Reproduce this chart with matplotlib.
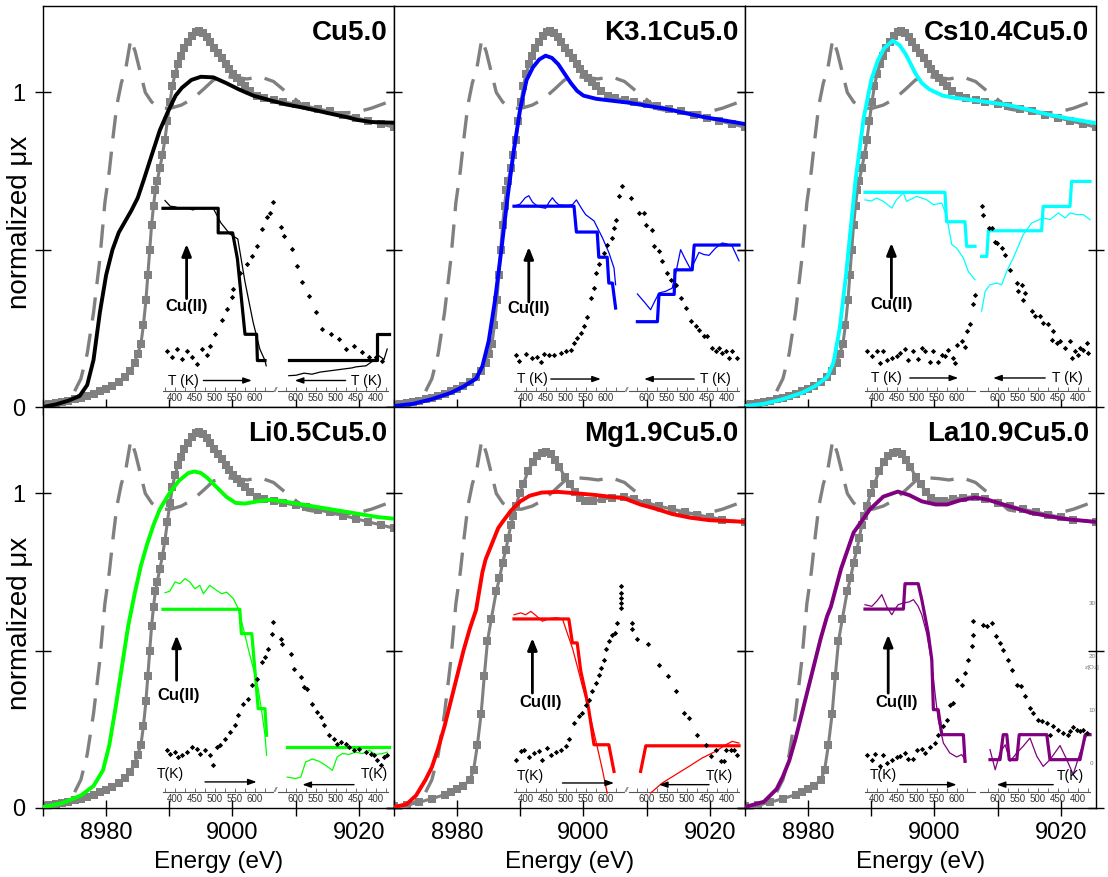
import matplotlib
matplotlib.use('Agg')
import matplotlib.pyplot as plt
from matplotlib.ticker import MultipleLocator, FixedLocator, FuncFormatter

plt.rcParams['font.family'] = ['Liberation Sans', 'DejaVu Sans']

# ---------------- main XANES spectra (energy eV, normalized mu x) ----------------
ref_dash = [(8970, 0.0), (8972, 0.005), (8973.4, 0.02), (8975, 0.05), (8976, 0.09), (8977, 0.17),
            (8978, 0.3), (8979, 0.47), (8979.8, 0.65), (8980.5, 0.75), (8981.1, 0.86), (8981.7, 0.96),
            (8982.4, 1.03), (8983.1, 1.075), (8983.9, 1.17), (8984.6, 1.13), (8985.4, 1.065),
            (8986.2, 1.0), (8987.2, 0.97), (8988.5, 0.95), (8990.2, 0.95), (8991.9, 0.96),
            (8993.7, 0.98), (8995.4, 1.01), (8997, 1.04), (8999, 1.05), (9000.8, 1.047),
            (9002.3, 1.043), (9004.4, 1.05), (9006.5, 1.035), (9008, 1.01), (9009.6, 0.985),
            (9011.7, 0.948), (9014.8, 0.937), (9017, 0.935), (9019.5, 0.937), (9022, 0.95),
            (9024.7, 0.97), (9026, 0.98)]

ref_sq_a = [(8970, 0.005), (8971, 0.008), (8972, 0.012), (8973, 0.016), (8974, 0.02), (8975, 0.025),
            (8976, 0.03), (8977, 0.036), (8978, 0.042), (8979, 0.05), (8980, 0.058), (8981, 0.068),
            (8982, 0.08), (8983, 0.095), (8983.8, 0.115), (8984.5, 0.14), (8985, 0.17), (8985.5, 0.2),
            (8985.9, 0.26), (8986.3, 0.34), (8986.6, 0.42), (8986.9, 0.5), (8987.2, 0.58),
            (8987.5, 0.64), (8987.8, 0.69), (8988.1, 0.72), (8988.5, 0.76), (8988.9, 0.8),
            (8989.3, 0.85), (8989.7, 0.91), (8990.1, 0.97), (8990.5, 1.02), (8990.9, 1.06),
            (8991.4, 1.09), (8991.9, 1.117), (8992.4, 1.14), (8993, 1.16), (8993.6, 1.18),
            (8994.2, 1.193), (8994.7, 1.197), (8995.3, 1.19), (8995.9, 1.175), (8996.5, 1.16),
            (8997.1, 1.14), (8997.7, 1.125), (8998.3, 1.11), (8998.9, 1.09), (8999.5, 1.075),
            (9000.1, 1.06), (9000.7, 1.045), (9001.3, 1.033), (9002, 1.02), (9002.8, 1.005),
            (9003.9, 0.99), (9005, 0.982), (9006.5, 0.975), (9008, 0.97), (9010, 0.963),
            (9011.7, 0.957), (9013.5, 0.948), (9015.5, 0.94), (9017.5, 0.93), (9019.5, 0.92),
            (9021.5, 0.91), (9023.5, 0.9), (9025.5, 0.89)]

ref_sq_b = [(8970, 0.005), (8972, 0.01), (8974, 0.018), (8976, 0.03), (8978, 0.042), (8979, 0.05),
            (8980, 0.06), (8981, 0.07), (8982, 0.09), (8982.6, 0.12), (8983.2, 0.2), (8983.8, 0.3),
            (8984.3, 0.42), (8984.8, 0.53), (8985.4, 0.6), (8986.2, 0.69), (8986.7, 0.73),
            (8987.2, 0.78), (8987.7, 0.82), (8988.1, 0.86), (8988.5, 0.9), (8988.9, 0.93),
            (8989.3, 0.96), (8989.9, 1.0), (8990.5, 1.03), (8991.2, 1.07), (8992, 1.1),
            (8992.7, 1.12), (8993.4, 1.13), (8994.1, 1.133), (8994.8, 1.125), (8995.5, 1.105),
            (8996.2, 1.085), (8997, 1.054), (8997.8, 1.03), (8998.6, 1.005), (8999.4, 0.985),
            (9000.2, 0.975), (9001.5, 0.975), (9003, 0.982), (9004.5, 0.987), (9006.4, 0.99),
            (9008, 0.982), (9010, 0.97), (9012, 0.96), (9014, 0.95), (9016, 0.942), (9018, 0.932),
            (9020, 0.925), (9022, 0.917), (9025.5, 0.908)]

cu_mu = [(8970, 0.0), (8972, 0.008), (8974, 0.02), (8975.8, 0.035), (8977, 0.07), (8978, 0.15),
         (8979, 0.3), (8980, 0.42), (8981, 0.5), (8982, 0.555), (8983, 0.59), (8984, 0.625),
         (8985, 0.665), (8986, 0.725), (8987.2, 0.8), (8988.5, 0.88), (8989.8, 0.94), (8991, 0.99),
         (8992, 1.015), (8993.5, 1.04), (8995, 1.05), (8997, 1.048), (8999, 1.03), (9001, 1.01),
         (9003.3, 0.99), (9006, 0.975), (9008.5, 0.962), (9011.7, 0.95), (9015, 0.935),
         (9018, 0.922), (9020, 0.912), (9022, 0.906), (9025.5, 0.904)]

k_mu = [(8970, 0.003), (8973, 0.01), (8976, 0.025), (8979, 0.045), (8981, 0.065), (8983, 0.09),
        (8984, 0.13), (8985, 0.21), (8986, 0.34), (8987, 0.5), (8988, 0.67), (8989, 0.82),
        (8990, 0.95), (8991, 1.04), (8992, 1.08), (8993, 1.105), (8994, 1.117), (8995, 1.11),
        (8996, 1.09), (8997, 1.06), (8998, 1.03), (8999, 1.005), (9000, 0.99), (9002, 0.98),
        (9004, 0.975), (9007, 0.968), (9010, 0.958), (9013, 0.948), (9016, 0.935), (9019, 0.922),
        (9022, 0.912), (9025.5, 0.9)]

cs_mu = [(8970, 0.003), (8973, 0.01), (8976, 0.025), (8979, 0.045), (8981, 0.065), (8983, 0.095),
         (8984, 0.14), (8985, 0.25), (8986, 0.42), (8986.7, 0.56), (8987.5, 0.72), (8988.8, 0.92),
         (8990, 1.04), (8991, 1.1), (8992, 1.14), (8993.4, 1.165), (8994.5, 1.15), (8995.5, 1.12),
         (8997, 1.06), (8998, 1.03), (8999.2, 1.01), (9001.3, 0.99), (9003.5, 0.982),
         (9006.4, 0.975), (9009, 0.968), (9011.7, 0.96), (9015, 0.945), (9018, 0.93),
         (9021, 0.918), (9025.5, 0.903)]

li_mu = [(8970, 0.003), (8973, 0.015), (8976, 0.04), (8978, 0.07), (8979.5, 0.12), (8980.5, 0.2),
         (8981.5, 0.32), (8982.5, 0.45), (8983.5, 0.58), (8984.5, 0.68), (8985.5, 0.77),
         (8986.5, 0.84), (8987.5, 0.9), (8988.5, 0.95), (8990, 1.0), (8991.5, 1.04), (8993, 1.065),
         (8994, 1.07), (8995, 1.065), (8996, 1.05), (8997.5, 1.02), (8999, 0.99), (9000.5, 0.97),
         (9002, 0.968), (9004, 0.975), (9006, 0.98), (9008, 0.975), (9011, 0.965), (9014, 0.955),
         (9017, 0.945), (9020, 0.935), (9023, 0.925), (9025.5, 0.92)]

mg_mu = [(8970, 0.003), (8972, 0.012), (8973.5, 0.04), (8975, 0.09), (8976, 0.13), (8977, 0.19),
         (8978, 0.26), (8979, 0.34), (8980, 0.42), (8981, 0.5), (8982, 0.57), (8983, 0.63),
         (8984, 0.75), (8984.5, 0.79), (8985.5, 0.84), (8986.5, 0.89), (8987.2, 0.91),
         (8988.5, 0.945), (8990, 0.975), (8991.5, 0.993), (8993.4, 1.003), (8996, 1.005),
         (8999.2, 1.0), (9002, 0.995), (9004, 0.99), (9006.4, 0.985), (9009, 0.965),
         (9011.7, 0.95), (9014, 0.935), (9016.9, 0.923), (9020, 0.915), (9025.5, 0.91)]

la_mu = [(8970, 0.003), (8973, 0.02), (8975, 0.06), (8976, 0.1), (8977, 0.15), (8978, 0.22),
         (8979, 0.3), (8980, 0.38), (8981, 0.46), (8982, 0.54), (8983, 0.61), (8983.6, 0.64),
         (8985.2, 0.76), (8987.2, 0.876), (8989.8, 0.95), (8991.9, 0.99), (8994.2, 1.006),
         (8996, 0.995), (8998, 0.975), (9000.2, 0.965), (9002, 0.965), (9004, 0.978),
         (9006.4, 0.987), (9008.5, 0.98), (9011.7, 0.96), (9015, 0.94), (9018, 0.928),
         (9021, 0.918), (9025.5, 0.91)]

# ---------------- inset data: (T in K, normalized signal) ----------------
cu_heat_step = [(370, 0.87), (508, 0.87), (508, 0.753), (544, 0.753), (556, 0.63), (575, 0.27),
                (604, 0.27), (606, 0.145), (625, 0.145)]
cu_heat_thin = [(375, 0.907), (388, 0.88), (400, 0.877), (415, 0.868), (430, 0.872), (445, 0.862),
                (458, 0.873), (470, 0.866), (485, 0.872), (495, 0.872), (515, 0.80), (537, 0.748),
                (557, 0.724), (575, 0.52), (595, 0.33), (612, 0.2), (625, 0.145), (628, 0.12)]
cu_cool_step = [(618, 0.15), (397, 0.15), (397, 0.272), (368, 0.272)]
cu_cool_thin = [(618, 0.073), (600, 0.075), (580, 0.085), (560, 0.08), (540, 0.09), (520, 0.095),
                (500, 0.1), (480, 0.105), (460, 0.11), (450, 0.115), (425, 0.12), (410, 0.14),
                (392, 0.167), (380, 0.15), (372, 0.2)]
cu_heat_dia = [(379, 0.19), (392, 0.16), (404, 0.2), (417, 0.153), (429, 0.19), (442, 0.16),
               (454, 0.13), (467, 0.2), (479, 0.17), (487, 0.216), (500, 0.27), (517, 0.34),
               (529, 0.39), (542, 0.45), (546, 0.486), (562, 0.56), (579, 0.605), (592, 0.645),
               (604, 0.69), (617, 0.77), (629, 0.83), (637, 0.85), (644, 0.9)]
cu_cool_dia = [(638, 0.78), (630, 0.74), (609, 0.677), (597, 0.597), (584, 0.518), (567, 0.454),
               (551, 0.375), (534, 0.296), (513, 0.272), (492, 0.248), (476, 0.2), (455, 0.216),
               (434, 0.185), (417, 0.16), (401, 0.16), (384, 0.145)]

k_heat_step = [(370, 0.88), (520, 0.88), (526, 0.757), (578, 0.757), (582, 0.637), (603, 0.637),
               (607, 0.514), (616, 0.514), (624, 0.395)]
k_heat_thin = [(370, 0.88), (385, 0.89), (398, 0.92), (407, 0.93), (416, 0.9), (424, 0.887),
               (436, 0.875), (449, 0.87), (458, 0.9), (466, 0.92), (474, 0.9), (482, 0.887),
               (500, 0.885), (516, 0.887), (526, 0.91), (537, 0.875), (549, 0.84), (570, 0.81),
               (591, 0.73), (607, 0.66), (620, 0.586), (624, 0.506)]
k_cool_step = [(624, 0.33), (574, 0.33), (570, 0.46), (532, 0.46), (530, 0.577), (487, 0.577),
               (482, 0.695), (370, 0.695)]
k_cool_thin = [(624, 0.462), (605, 0.42), (591, 0.387), (580, 0.43), (570, 0.467), (553, 0.475),
               (537, 0.49), (526, 0.58), (516, 0.673), (505, 0.63), (491, 0.58), (480, 0.62),
               (470, 0.66), (458, 0.65), (445, 0.646), (429, 0.68), (412, 0.705), (400, 0.7),
               (387, 0.69), (370, 0.62)]
k_heat_dia = [(374, 0.173), (382, 0.144), (399, 0.176), (416, 0.157), (428, 0.16), (437, 0.138),
              (445, 0.176), (457, 0.17), (470, 0.173), (487, 0.181), (499, 0.192), (512, 0.197),
              (520, 0.229), (528, 0.252), (537, 0.276), (545, 0.308), (553, 0.351), (562, 0.443),
              (570, 0.49), (574, 0.562), (582, 0.605), (595, 0.657), (603, 0.697), (616, 0.729),
              (620, 0.776), (624, 0.816), (632, 0.927), (641, 0.975)]
k_cool_dia = [(641, 0.919), (620, 0.848), (607, 0.848), (603, 0.792), (587, 0.768), (582, 0.689),
              (570, 0.665), (562, 0.618), (549, 0.562), (541, 0.53), (528, 0.506), (516, 0.443),
              (503, 0.395), (491, 0.332), (478, 0.308), (470, 0.292), (457, 0.26), (449, 0.26),
              (437, 0.205), (428, 0.189), (420, 0.205), (412, 0.181), (403, 0.189), (395, 0.157),
              (387, 0.189), (374, 0.157)]

cs_heat_step = [(370, 0.946), (570, 0.946), (574, 0.806), (620, 0.806), (624, 0.689), (645, 0.689)]
cs_heat_thin = [(370, 0.91), (386, 0.905), (399, 0.919), (416, 0.903), (437, 0.871), (449, 0.911),
                (466, 0.943), (474, 0.903), (499, 0.927), (524, 0.911), (541, 0.887), (562, 0.895),
                (574, 0.832), (587, 0.697), (599, 0.681), (616, 0.633), (628, 0.57), (641, 0.538),
                (645, 0.53)]
cs_cool_step = [(641, 0.641), (628, 0.641), (624, 0.763), (491, 0.763), (487, 0.879), (420, 0.879),
                (416, 0.998), (370, 0.998)]
cs_cool_thin = [(641, 0.38), (632, 0.475), (620, 0.506), (603, 0.514), (591, 0.506), (578, 0.57),
                (562, 0.633), (537, 0.744), (516, 0.8), (487, 0.824), (470, 0.816), (449, 0.848),
                (432, 0.824), (420, 0.848), (403, 0.84), (387, 0.84), (370, 0.816)]
cs_heat_dia = [(374, 0.189), (387, 0.165), (399, 0.192), (407, 0.133), (416, 0.189), (424, 0.149),
               (437, 0.157), (449, 0.165), (457, 0.181), (470, 0.2), (478, 0.149), (491, 0.189),
               (503, 0.152), (512, 0.205), (520, 0.189), (532, 0.138), (541, 0.192), (553, 0.138),
               (562, 0.173), (570, 0.165), (578, 0.197), (591, 0.157), (595, 0.133), (599, 0.221),
               (612, 0.24), (620, 0.208), (624, 0.287), (632, 0.319), (641, 0.416), (645, 0.459)]
cs_cool_dia = [(641, 0.879), (638, 0.84), (622, 0.776), (616, 0.776), (607, 0.71), (603, 0.705),
               (591, 0.681), (582, 0.649), (570, 0.578), (553, 0.514), (549, 0.475), (541, 0.506),
               (532, 0.467), (537, 0.435), (516, 0.379), (507, 0.356), (495, 0.356), (487, 0.324),
               (474, 0.319), (462, 0.284), (466, 0.244), (453, 0.229), (445, 0.237), (432, 0.205),
               (420, 0.237), (416, 0.157), (407, 0.189), (399, 0.173), (395, 0.205), (387, 0.197),
               (378, 0.229), (374, 0.181)]

li_heat_step = [(370, 0.87), (562, 0.87), (566, 0.754), (592, 0.754), (608, 0.397), (625, 0.397),
                (629, 0.27)]
li_heat_thin = [(375, 0.949), (387, 0.956), (400, 1.0), (412, 0.992), (425, 1.016), (437, 1.0),
                (450, 0.968), (462, 0.984), (471, 0.944), (487, 0.984), (504, 0.96), (517, 0.944),
                (529, 0.952), (546, 0.921), (558, 0.873), (571, 0.778), (583, 0.683), (596, 0.587),
                (608, 0.492), (617, 0.381), (625, 0.27), (629, 0.175)]
li_cool_step = [(622, 0.214), (368, 0.214)]
li_cool_thin = [(622, 0.071), (601, 0.064), (588, 0.071), (576, 0.143), (559, 0.157), (542, 0.146),
                (526, 0.127), (509, 0.103), (497, 0.167), (484, 0.183), (467, 0.179), (451, 0.19),
                (434, 0.183), (417, 0.198), (401, 0.179), (384, 0.183), (372, 0.19)]
li_heat_dia = [(379, 0.198), (387, 0.183), (400, 0.19), (408, 0.167), (417, 0.175), (429, 0.19),
               (442, 0.214), (454, 0.206), (462, 0.183), (475, 0.198), (487, 0.175), (494, 0.127),
               (504, 0.214), (512, 0.222), (525, 0.254), (537, 0.286), (550, 0.317), (558, 0.365),
               (571, 0.421), (583, 0.444), (592, 0.508), (604, 0.54), (617, 0.619), (625, 0.643),
               (633, 0.683), (642, 0.754), (646, 0.81)]
li_cool_dia = [(638, 0.73), (634, 0.706), (613, 0.659), (605, 0.587), (588, 0.548), (580, 0.5),
               (572, 0.492), (559, 0.421), (547, 0.381), (538, 0.357), (530, 0.317), (517, 0.27),
               (505, 0.254), (497, 0.23), (488, 0.238), (476, 0.23), (467, 0.214), (455, 0.198),
               (442, 0.206), (426, 0.19), (413, 0.183), (405, 0.175), (397, 0.151), (388, 0.127),
               (380, 0.167), (372, 0.175)]

mg_heat_step = [(370, 0.824), (507, 0.824), (516, 0.71), (528, 0.71), (537, 0.575), (549, 0.471),
                (557, 0.392), (570, 0.225), (607, 0.225), (620, 0.098)]
mg_heat_thin = [(370, 0.844), (387, 0.853), (399, 0.844), (412, 0.86), (425, 0.84), (441, 0.813),
                (457, 0.825), (474, 0.83), (491, 0.825), (503, 0.757), (516, 0.686), (528, 0.6),
                (541, 0.503), (557, 0.392), (574, 0.249), (591, 0.106), (603, -0.005)]
mg_cool_step = [(616, 0.098), (603, 0.22), (370, 0.22)]
mg_cool_thin = [(591, -0.005), (562, 0.043), (528, 0.083), (495, 0.122), (462, 0.162), (428, 0.194),
                (403, 0.225), (387, 0.241), (370, 0.233)]
mg_heat_dia = [(374, 0.154), (387, 0.194), (395, 0.202), (407, 0.167), (420, 0.186), (432, 0.194),
               (441, 0.154), (453, 0.21), (462, 0.178), (474, 0.189), (487, 0.202), (499, 0.221),
               (507, 0.252), (520, 0.329), (532, 0.36), (541, 0.376), (549, 0.416), (557, 0.44),
               (566, 0.479), (574, 0.519), (582, 0.559), (587, 0.59), (595, 0.63), (599, 0.681),
               (607, 0.717), (616, 0.749), (622, 0.757), (628, 0.805), (637, 0.876), (637, 0.9),
               (637, 0.925), (637, 0.95), (637, 0.98)]
mg_cool_dia = [(637, 0.805), (637, 0.776), (624, 0.729), (597, 0.706), (570, 0.606), (547, 0.554),
               (527, 0.479), (507, 0.376), (495, 0.352), (474, 0.273), (453, 0.225), (441, 0.173),
               (427, 0.202), (416, 0.146), (407, 0.146), (403, 0.202), (391, 0.202), (382, 0.202),
               (374, 0.178)]

la_heat_step = [(370, 0.871), (466, 0.871), (470, 0.992), (503, 0.992), (512, 0.916), (528, 0.757),
                (537, 0.63), (541, 0.392), (553, 0.392), (562, 0.273), (616, 0.273), (620, 0.146)]
la_heat_thin = [(370, 0.892), (387, 0.884), (400, 0.91), (412, 0.94), (425, 0.88), (437, 0.844),
                (445, 0.87), (453, 0.892), (466, 0.9), (480, 0.905), (491, 0.916), (503, 0.884),
                (512, 0.844), (524, 0.757), (537, 0.614), (545, 0.471), (553, 0.344), (566, 0.233),
                (582, 0.186), (599, 0.167), (612, 0.178), (622, 0.146)]
la_cool_step = [(620, 0.154), (595, 0.154), (587, 0.273), (578, 0.273), (572, 0.154), (553, 0.154),
                (547, 0.273), (478, 0.273), (470, 0.154), (395, 0.154), (382, 0.273), (370, 0.273)]
la_cool_thin = [(620, 0.202), (607, 0.106), (595, 0.186), (582, 0.225), (570, 0.146), (553, 0.186),
                (537, 0.218), (520, 0.257), (503, 0.17), (487, 0.122), (470, 0.154), (445, 0.221),
                (428, 0.154), (412, 0.083), (395, 0.186), (378, 0.273)]
la_heat_dia = [(374, 0.178), (387, 0.154), (395, 0.181), (407, 0.122), (416, 0.178), (424, 0.138),
               (437, 0.151), (449, 0.167), (457, 0.17), (470, 0.186), (478, 0.159), (491, 0.159),
               (499, 0.202), (512, 0.205), (520, 0.186), (532, 0.214), (545, 0.233), (553, 0.273),
               (566, 0.313), (574, 0.344), (582, 0.416), (591, 0.424), (599, 0.535), (612, 0.511),
               (620, 0.567), (628, 0.63), (637, 0.694), (639, 0.749), (641, 0.813)]
la_cool_dia = [(637, 0.797), (628, 0.789), (616, 0.805), (606, 0.741), (595, 0.71), (587, 0.678),
               (574, 0.63), (566, 0.583), (553, 0.511), (543, 0.503), (532, 0.456), (520, 0.4),
               (512, 0.376), (499, 0.344), (491, 0.337), (478, 0.329), (470, 0.273), (462, 0.313),
               (449, 0.297), (437, 0.281), (424, 0.273), (420, 0.289), (412, 0.31), (403, 0.297),
               (395, 0.289), (387, 0.294), (378, 0.281)]

sample_names = ['Cu5.0', 'K3.1Cu5.0', 'Cs10.4Cu5.0', 'Li0.5Cu5.0', 'Mg1.9Cu5.0', 'La10.9Cu5.0']
sample_colors = ['#000000', '#0000ff', '#00ffff', '#00ff00', '#ff0000', '#800080']

# ---------------- figure ----------------
W, H = 1108, 877
fig = plt.figure(figsize=(W / 100, H / 100), dpi=100)

col_left = [43, 394, 745]
col_w = 350.5
row_top = [6, 407]
row_h = 401

panels = [
    dict(mu=cu_mu, sq=ref_sq_a, hs=cu_heat_step, ht=cu_heat_thin, cs=cu_cool_step, ct=cu_cool_thin,
         hd=cu_heat_dia, cd=cu_cool_dia, tk='T (K)', arrow=(429, 0.44, 0.70), lab=(429, 0.40),
         tl=(421, 0.05, 471, 592, 0.05), tr=(424, 0.05, 476, 603, 0.05), brk=True),
    dict(mu=k_mu, sq=ref_sq_a, hs=k_heat_step, ht=k_heat_thin, cs=k_cool_step, ct=k_cool_thin,
         hd=k_heat_dia, cd=k_cool_dia, tk='T (K)', arrow=(407, 0.424, 0.686), lab=(407, 0.395),
         tl=(416, 0.057, 462, 587, 0.057), tr=(428, 0.057, 482, 607, 0.057), brk=True),
    dict(mu=cs_mu, sq=ref_sq_a, hs=cs_heat_step, ht=cs_heat_thin, cs=cs_cool_step, ct=cs_cool_thin,
         hd=cs_heat_dia, cd=cs_cool_dia, tk='T (K)', arrow=(436, 0.443, 0.705), lab=(436, 0.41),
         tl=(424, 0.062, 482, 603, 0.062), tr=(427, 0.062, 482, 612, 0.062), brk=False),
    dict(mu=li_mu, sq=ref_sq_a, hs=li_heat_step, ht=li_heat_thin, cs=li_cool_step, ct=li_cool_thin,
         hd=li_heat_dia, cd=li_cool_dia, tk='T(K)', arrow=(404, 0.532, 0.746), lab=(409, 0.46),
         tl=(389, 0.087, 475, 604, 0.048), tr=(405, 0.087, 455, 584, 0.035), brk=True),
    dict(mu=mg_mu, sq=ref_sq_b, hs=mg_heat_step, ht=mg_heat_thin, cs=mg_cool_step, ct=mg_cool_thin,
         hd=mg_heat_dia, cd=mg_cool_dia, tk='T(K)', arrow=(416, 0.471, 0.733), lab=(437, 0.427),
         tl=(412, 0.078, 491, 620, 0.043), tr=(418, 0.078, 445, 570, 0.035), brk=True),
    dict(mu=la_mu, sq=ref_sq_b, hs=la_heat_step, ht=la_heat_thin, cs=la_cool_step, ct=la_cool_thin,
         hd=la_heat_dia, cd=la_cool_dia, tk='T(K)', arrow=(428, 0.471, 0.749), lab=(449, 0.424),
         tl=(416, 0.082, 457, 599, 0.035), tr=(420, 0.078, 462, 603, 0.035), brk=False),
]


def xy(pairs):
    return [p[0] for p in pairs], [p[1] for p in pairs]


def make_inset(left_px, bottom_px, x0, x1, xlim):
    a = fig.add_axes([(left_px + x0) / W, bottom_px / H, (x1 - x0) / W, 231 / H])
    a.patch.set_visible(False)
    for s in ['top', 'left', 'right']:
        a.spines[s].set_visible(False)
    a.spines['bottom'].set_color('#555555')
    a.spines['bottom'].set_linewidth(0.8)
    a.set_xlim(*xlim)
    a.set_ylim(0, 1.1)
    a.set_yticks([])
    a.xaxis.set_major_locator(FixedLocator([400, 450, 500, 550, 600]))
    a.xaxis.set_minor_locator(MultipleLocator(25))
    a.tick_params(axis='x', which='both', direction='in', length=3, width=0.6,
                  color='#555555', labelsize=7, labelcolor='#333333', pad=1.5)
    return a


for i, p in enumerate(panels):
    r, c = divmod(i, 3)
    lpx = col_left[c]
    top = row_top[r]
    bpx = H - (top + row_h)
    ax = fig.add_axes([lpx / W, bpx / H, col_w / W, row_h / H])
    ax.set_xlim(8970, 9025.5)
    ax.set_ylim(0, 1.275)

    ex, ey = xy(p['sq'])
    ax.plot(ex, ey, color='#808080', lw=2.2, marker='s', ms=6, mew=0, zorder=2, solid_capstyle='butt')
    dx, dy = xy(ref_dash)
    ax.plot(dx, dy, color='#808080', lw=2.4, dashes=(7, 4), zorder=3)
    mx, my = xy(p['mu'])
    ax.plot(mx, my, color=sample_colors[i], lw=2.8, zorder=4, solid_joinstyle='round')

    ax.xaxis.set_major_locator(MultipleLocator(10))
    ax.xaxis.set_major_formatter(FuncFormatter(lambda v, pos: f'{v:.0f}' if round(v) % 20 == 0 else ''))
    ax.yaxis.set_major_locator(FixedLocator([0, 0.5, 1.0]))
    ax.yaxis.set_major_formatter(FuncFormatter(lambda v, pos: '' if abs(v - 0.5) < 1e-6 else f'{v:.0f}'))
    ax.tick_params(axis='both', direction='inout', length=12, width=1, right=True, top=False, pad=4)
    ax.tick_params(axis='x', labelbottom=(r == 1), labelsize=17)
    ax.tick_params(axis='y', labelleft=(c == 0), pad=7, labelsize=17)
    for s in ax.spines.values():
        s.set_linewidth(1)
    ax.text(0.982, 0.915, sample_names[i], transform=ax.transAxes, ha='right', va='baseline',
            fontsize=20, fontweight='bold', zorder=6)

    # inset
    ibot = bpx + 16
    ah = make_inset(lpx, ibot, 120, 230, (370, 645))
    ac = make_inset(lpx, ibot, 235, 345, (645, 370))
    col = sample_colors[i]
    for a, st, th, di in [(ah, p['hs'], p['ht'], p['hd']), (ac, p['cs'], p['ct'], p['cd'])]:
        tx, ty = xy(th)
        a.plot(tx, ty, color=col, lw=0.9, clip_on=False, zorder=3)
        sx, sy = xy(st)
        a.plot(sx, sy, color=col, lw=2.3, clip_on=False, zorder=4)
        qx, qy = xy(di)
        a.plot(qx, qy, ls='none', marker='D', ms=2.7, color='black', mew=0, clip_on=False, zorder=5)

    T0, v0, v1 = p['arrow']
    ah.annotate('', xy=(T0, v1), xytext=(T0, v0),
                arrowprops=dict(arrowstyle='-|>,head_length=0.7,head_width=0.28', lw=2, color='black',
                                shrinkA=0, shrinkB=0))
    ah.text(p['lab'][0], p['lab'][1], 'Cu(II)', ha='center', va='center', fontsize=12,
            fontweight='bold')
    for a, (tt, tv, t0, t1, av) in [(ah, p['tl']), (ac, p['tr'])]:
        a.text(tt, tv, p['tk'], ha='center', va='center', fontsize=10)
        a.annotate('', xy=(t1, av), xytext=(t0, av),
                   arrowprops=dict(arrowstyle='-|>,head_length=0.5,head_width=0.18', lw=1,
                                   color='black', shrinkA=0, shrinkB=0))
    if p['brk']:
        ax.text(232.5 / col_w, 17 / row_h, '//', transform=ax.transAxes,
                ha='center', va='center', fontsize=5, style='italic', color='#333333', zorder=7)

    if i == 5:
        for txt, yf in [('30', 0.509), ('20', 0.377), ('z[O$_2$]', 0.35), ('10', 0.244), ('0', 0.11)]:
            ax.text(0.99, yf, txt, transform=ax.transAxes, ha='center', va='center', fontsize=4.5,
                    color='#777777', zorder=7)

# axis labels
for r in range(2):
    fig.text(20 / W, 1 - (row_top[r] + 216) / H, 'normalized \u03bcx', rotation=90,
             ha='center', va='center', fontsize=20)
for c in range(3):
    fig.text((col_left[c] + col_w / 2) / W, 1 - 862 / H, 'Energy (eV)', ha='center', va='center',
             fontsize=17.5)

fig.savefig('out.png', dpi=100)
